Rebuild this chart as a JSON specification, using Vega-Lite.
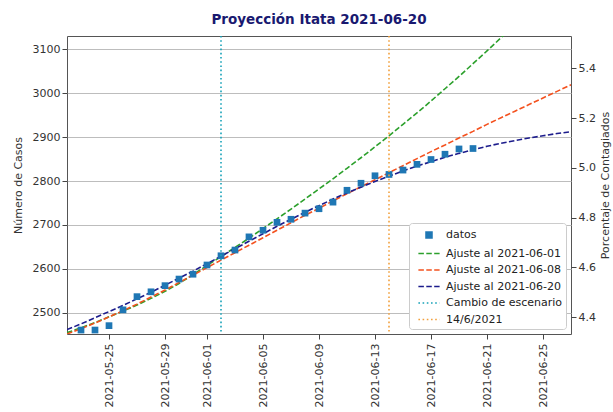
{
  "$schema": "https://vega.github.io/schema/vega-lite/v6.json",
  "width": 504,
  "height": 298,
  "autosize": "none",
  "padding": {"left": 67, "top": 36, "right": 42, "bottom": 78},
  "background": "white",
  "title": {"text": "Proyección Itata 2021-06-20", "font": "DejaVu Sans", "fontSize": 13.5, "fontWeight": "bold", "color": "#191970", "anchor": "middle", "offset": 9},
  "config": {
    "view": {"stroke": "#555555", "strokeWidth": 1},
    "font": "DejaVu Sans",
    "axis": {"labelFont": "DejaVu Sans", "labelFontSize": 11, "labelColor": "#333333", "tickColor": "#444444", "tickSize": 5, "domain": false, "titleFont": "DejaVu Sans", "titleFontSize": 11, "titleFontWeight": "normal", "titleColor": "#333333", "gridColor": "#bdbdbd", "gridWidth": 1}
  },
  "datasets": {
    "datos": [
      {"fecha": "2021-05-23", "casos": 2461, "porcentaje": 4.348, "serie": "datos"},
      {"fecha": "2021-05-24", "casos": 2461, "porcentaje": 4.348, "serie": "datos"},
      {"fecha": "2021-05-25", "casos": 2471, "porcentaje": 4.366, "serie": "datos"},
      {"fecha": "2021-05-26", "casos": 2507, "porcentaje": 4.429, "serie": "datos"},
      {"fecha": "2021-05-27", "casos": 2537, "porcentaje": 4.482, "serie": "datos"},
      {"fecha": "2021-05-28", "casos": 2548, "porcentaje": 4.502, "serie": "datos"},
      {"fecha": "2021-05-29", "casos": 2562, "porcentaje": 4.527, "serie": "datos"},
      {"fecha": "2021-05-30", "casos": 2577, "porcentaje": 4.553, "serie": "datos"},
      {"fecha": "2021-05-31", "casos": 2588, "porcentaje": 4.572, "serie": "datos"},
      {"fecha": "2021-06-01", "casos": 2609, "porcentaje": 4.610, "serie": "datos"},
      {"fecha": "2021-06-02", "casos": 2630, "porcentaje": 4.647, "serie": "datos"},
      {"fecha": "2021-06-03", "casos": 2643, "porcentaje": 4.670, "serie": "datos"},
      {"fecha": "2021-06-04", "casos": 2673, "porcentaje": 4.723, "serie": "datos"},
      {"fecha": "2021-06-05", "casos": 2688, "porcentaje": 4.749, "serie": "datos"},
      {"fecha": "2021-06-06", "casos": 2706, "porcentaje": 4.781, "serie": "datos"},
      {"fecha": "2021-06-07", "casos": 2713, "porcentaje": 4.793, "serie": "datos"},
      {"fecha": "2021-06-08", "casos": 2727, "porcentaje": 4.818, "serie": "datos"},
      {"fecha": "2021-06-09", "casos": 2737, "porcentaje": 4.836, "serie": "datos"},
      {"fecha": "2021-06-10", "casos": 2752, "porcentaje": 4.862, "serie": "datos"},
      {"fecha": "2021-06-11", "casos": 2779, "porcentaje": 4.910, "serie": "datos"},
      {"fecha": "2021-06-12", "casos": 2795, "porcentaje": 4.938, "serie": "datos"},
      {"fecha": "2021-06-13", "casos": 2812, "porcentaje": 4.968, "serie": "datos"},
      {"fecha": "2021-06-14", "casos": 2815, "porcentaje": 4.974, "serie": "datos"},
      {"fecha": "2021-06-15", "casos": 2825, "porcentaje": 4.991, "serie": "datos"},
      {"fecha": "2021-06-16", "casos": 2838, "porcentaje": 5.014, "serie": "datos"},
      {"fecha": "2021-06-17", "casos": 2849, "porcentaje": 5.034, "serie": "datos"},
      {"fecha": "2021-06-18", "casos": 2861, "porcentaje": 5.055, "serie": "datos"},
      {"fecha": "2021-06-19", "casos": 2873, "porcentaje": 5.076, "serie": "datos"},
      {"fecha": "2021-06-20", "casos": 2874, "porcentaje": 5.078, "serie": "datos"}
    ],
    "ajustes": [
      {"fecha": "2021-05-22", "serie": "Ajuste al 2021-06-01", "casos": 2455},
      {"fecha": "2021-05-23", "serie": "Ajuste al 2021-06-01", "casos": 2466},
      {"fecha": "2021-05-24", "serie": "Ajuste al 2021-06-01", "casos": 2478},
      {"fecha": "2021-05-25", "serie": "Ajuste al 2021-06-01", "casos": 2491},
      {"fecha": "2021-05-26", "serie": "Ajuste al 2021-06-01", "casos": 2504},
      {"fecha": "2021-05-27", "serie": "Ajuste al 2021-06-01", "casos": 2518},
      {"fecha": "2021-05-28", "serie": "Ajuste al 2021-06-01", "casos": 2533},
      {"fecha": "2021-05-29", "serie": "Ajuste al 2021-06-01", "casos": 2549},
      {"fecha": "2021-05-30", "serie": "Ajuste al 2021-06-01", "casos": 2567},
      {"fecha": "2021-05-31", "serie": "Ajuste al 2021-06-01", "casos": 2587},
      {"fecha": "2021-06-01", "serie": "Ajuste al 2021-06-01", "casos": 2608},
      {"fecha": "2021-06-02", "serie": "Ajuste al 2021-06-01", "casos": 2628},
      {"fecha": "2021-06-03", "serie": "Ajuste al 2021-06-01", "casos": 2649},
      {"fecha": "2021-06-04", "serie": "Ajuste al 2021-06-01", "casos": 2670},
      {"fecha": "2021-06-05", "serie": "Ajuste al 2021-06-01", "casos": 2692},
      {"fecha": "2021-06-06", "serie": "Ajuste al 2021-06-01", "casos": 2714},
      {"fecha": "2021-06-07", "serie": "Ajuste al 2021-06-01", "casos": 2736},
      {"fecha": "2021-06-08", "serie": "Ajuste al 2021-06-01", "casos": 2759},
      {"fecha": "2021-06-09", "serie": "Ajuste al 2021-06-01", "casos": 2782},
      {"fecha": "2021-06-10", "serie": "Ajuste al 2021-06-01", "casos": 2805},
      {"fecha": "2021-06-11", "serie": "Ajuste al 2021-06-01", "casos": 2829},
      {"fecha": "2021-06-12", "serie": "Ajuste al 2021-06-01", "casos": 2853},
      {"fecha": "2021-06-13", "serie": "Ajuste al 2021-06-01", "casos": 2878},
      {"fecha": "2021-06-14", "serie": "Ajuste al 2021-06-01", "casos": 2903},
      {"fecha": "2021-06-15", "serie": "Ajuste al 2021-06-01", "casos": 2929},
      {"fecha": "2021-06-16", "serie": "Ajuste al 2021-06-01", "casos": 2955},
      {"fecha": "2021-06-17", "serie": "Ajuste al 2021-06-01", "casos": 2982},
      {"fecha": "2021-06-18", "serie": "Ajuste al 2021-06-01", "casos": 3010},
      {"fecha": "2021-06-19", "serie": "Ajuste al 2021-06-01", "casos": 3038},
      {"fecha": "2021-06-20", "serie": "Ajuste al 2021-06-01", "casos": 3067},
      {"fecha": "2021-06-21", "serie": "Ajuste al 2021-06-01", "casos": 3096},
      {"fecha": "2021-06-22", "serie": "Ajuste al 2021-06-01", "casos": 3126},
      {"fecha": "2021-06-23", "serie": "Ajuste al 2021-06-01", "casos": 3157},
      {"fecha": "2021-05-22", "serie": "Ajuste al 2021-06-08", "casos": 2452},
      {"fecha": "2021-05-23", "serie": "Ajuste al 2021-06-08", "casos": 2464},
      {"fecha": "2021-05-24", "serie": "Ajuste al 2021-06-08", "casos": 2477},
      {"fecha": "2021-05-25", "serie": "Ajuste al 2021-06-08", "casos": 2491},
      {"fecha": "2021-05-26", "serie": "Ajuste al 2021-06-08", "casos": 2505},
      {"fecha": "2021-05-27", "serie": "Ajuste al 2021-06-08", "casos": 2520},
      {"fecha": "2021-05-28", "serie": "Ajuste al 2021-06-08", "casos": 2536},
      {"fecha": "2021-05-29", "serie": "Ajuste al 2021-06-08", "casos": 2552},
      {"fecha": "2021-05-30", "serie": "Ajuste al 2021-06-08", "casos": 2569},
      {"fecha": "2021-05-31", "serie": "Ajuste al 2021-06-08", "casos": 2586},
      {"fecha": "2021-06-01", "serie": "Ajuste al 2021-06-08", "casos": 2603},
      {"fecha": "2021-06-02", "serie": "Ajuste al 2021-06-08", "casos": 2620},
      {"fecha": "2021-06-03", "serie": "Ajuste al 2021-06-08", "casos": 2637},
      {"fecha": "2021-06-04", "serie": "Ajuste al 2021-06-08", "casos": 2654},
      {"fecha": "2021-06-05", "serie": "Ajuste al 2021-06-08", "casos": 2671},
      {"fecha": "2021-06-06", "serie": "Ajuste al 2021-06-08", "casos": 2688},
      {"fecha": "2021-06-07", "serie": "Ajuste al 2021-06-08", "casos": 2705},
      {"fecha": "2021-06-08", "serie": "Ajuste al 2021-06-08", "casos": 2722},
      {"fecha": "2021-06-09", "serie": "Ajuste al 2021-06-08", "casos": 2738},
      {"fecha": "2021-06-10", "serie": "Ajuste al 2021-06-08", "casos": 2755},
      {"fecha": "2021-06-11", "serie": "Ajuste al 2021-06-08", "casos": 2771},
      {"fecha": "2021-06-12", "serie": "Ajuste al 2021-06-08", "casos": 2787},
      {"fecha": "2021-06-13", "serie": "Ajuste al 2021-06-08", "casos": 2803},
      {"fecha": "2021-06-14", "serie": "Ajuste al 2021-06-08", "casos": 2819},
      {"fecha": "2021-06-15", "serie": "Ajuste al 2021-06-08", "casos": 2835},
      {"fecha": "2021-06-16", "serie": "Ajuste al 2021-06-08", "casos": 2851},
      {"fecha": "2021-06-17", "serie": "Ajuste al 2021-06-08", "casos": 2867},
      {"fecha": "2021-06-18", "serie": "Ajuste al 2021-06-08", "casos": 2882},
      {"fecha": "2021-06-19", "serie": "Ajuste al 2021-06-08", "casos": 2898},
      {"fecha": "2021-06-20", "serie": "Ajuste al 2021-06-08", "casos": 2913},
      {"fecha": "2021-06-21", "serie": "Ajuste al 2021-06-08", "casos": 2929},
      {"fecha": "2021-06-22", "serie": "Ajuste al 2021-06-08", "casos": 2944},
      {"fecha": "2021-06-23", "serie": "Ajuste al 2021-06-08", "casos": 2959},
      {"fecha": "2021-06-24", "serie": "Ajuste al 2021-06-08", "casos": 2974},
      {"fecha": "2021-06-25", "serie": "Ajuste al 2021-06-08", "casos": 2989},
      {"fecha": "2021-06-26", "serie": "Ajuste al 2021-06-08", "casos": 3004},
      {"fecha": "2021-06-27", "serie": "Ajuste al 2021-06-08", "casos": 3019},
      {"fecha": "2021-05-22", "serie": "Ajuste al 2021-06-20", "casos": 2462},
      {"fecha": "2021-05-23", "serie": "Ajuste al 2021-06-20", "casos": 2475},
      {"fecha": "2021-05-24", "serie": "Ajuste al 2021-06-20", "casos": 2489},
      {"fecha": "2021-05-25", "serie": "Ajuste al 2021-06-20", "casos": 2503},
      {"fecha": "2021-05-26", "serie": "Ajuste al 2021-06-20", "casos": 2517},
      {"fecha": "2021-05-27", "serie": "Ajuste al 2021-06-20", "casos": 2532},
      {"fecha": "2021-05-28", "serie": "Ajuste al 2021-06-20", "casos": 2547},
      {"fecha": "2021-05-29", "serie": "Ajuste al 2021-06-20", "casos": 2563},
      {"fecha": "2021-05-30", "serie": "Ajuste al 2021-06-20", "casos": 2579},
      {"fecha": "2021-05-31", "serie": "Ajuste al 2021-06-20", "casos": 2595},
      {"fecha": "2021-06-01", "serie": "Ajuste al 2021-06-20", "casos": 2612},
      {"fecha": "2021-06-02", "serie": "Ajuste al 2021-06-20", "casos": 2629},
      {"fecha": "2021-06-03", "serie": "Ajuste al 2021-06-20", "casos": 2646},
      {"fecha": "2021-06-04", "serie": "Ajuste al 2021-06-20", "casos": 2663},
      {"fecha": "2021-06-05", "serie": "Ajuste al 2021-06-20", "casos": 2680},
      {"fecha": "2021-06-06", "serie": "Ajuste al 2021-06-20", "casos": 2697},
      {"fecha": "2021-06-07", "serie": "Ajuste al 2021-06-20", "casos": 2713},
      {"fecha": "2021-06-08", "serie": "Ajuste al 2021-06-20", "casos": 2729},
      {"fecha": "2021-06-09", "serie": "Ajuste al 2021-06-20", "casos": 2744},
      {"fecha": "2021-06-10", "serie": "Ajuste al 2021-06-20", "casos": 2759},
      {"fecha": "2021-06-11", "serie": "Ajuste al 2021-06-20", "casos": 2773},
      {"fecha": "2021-06-12", "serie": "Ajuste al 2021-06-20", "casos": 2786},
      {"fecha": "2021-06-13", "serie": "Ajuste al 2021-06-20", "casos": 2799},
      {"fecha": "2021-06-14", "serie": "Ajuste al 2021-06-20", "casos": 2811},
      {"fecha": "2021-06-15", "serie": "Ajuste al 2021-06-20", "casos": 2823},
      {"fecha": "2021-06-16", "serie": "Ajuste al 2021-06-20", "casos": 2834},
      {"fecha": "2021-06-17", "serie": "Ajuste al 2021-06-20", "casos": 2844},
      {"fecha": "2021-06-18", "serie": "Ajuste al 2021-06-20", "casos": 2854},
      {"fecha": "2021-06-19", "serie": "Ajuste al 2021-06-20", "casos": 2863},
      {"fecha": "2021-06-20", "serie": "Ajuste al 2021-06-20", "casos": 2871},
      {"fecha": "2021-06-21", "serie": "Ajuste al 2021-06-20", "casos": 2879},
      {"fecha": "2021-06-22", "serie": "Ajuste al 2021-06-20", "casos": 2886},
      {"fecha": "2021-06-23", "serie": "Ajuste al 2021-06-20", "casos": 2892},
      {"fecha": "2021-06-24", "serie": "Ajuste al 2021-06-20", "casos": 2898},
      {"fecha": "2021-06-25", "serie": "Ajuste al 2021-06-20", "casos": 2903},
      {"fecha": "2021-06-26", "serie": "Ajuste al 2021-06-20", "casos": 2908},
      {"fecha": "2021-06-27", "serie": "Ajuste al 2021-06-20", "casos": 2912}
    ],
    "eventos": [
      {"fecha": "2021-06-02", "serie": "Cambio de escenario"},
      {"fecha": "2021-06-14", "serie": "14/6/2021"}
    ]
  },
  "encoding": {
    "x": {
      "field": "fecha", "type": "temporal",
      "scale": {"type": "utc", "domain": [{"year": 2021, "month": 5, "date": 22, "utc": true}, {"year": 2021, "month": 6, "date": 27, "utc": true}], "nice": false},
      "axis": {
        "title": null, "grid": false, "labelAngle": 270, "format": "%Y-%m-%d", "labelPadding": 4,
        "values": [
          {"year": 2021, "month": 5, "date": 25, "utc": true},
          {"year": 2021, "month": 5, "date": 29, "utc": true},
          {"year": 2021, "month": 6, "date": 1, "utc": true},
          {"year": 2021, "month": 6, "date": 5, "utc": true},
          {"year": 2021, "month": 6, "date": 9, "utc": true},
          {"year": 2021, "month": 6, "date": 13, "utc": true},
          {"year": 2021, "month": 6, "date": 17, "utc": true},
          {"year": 2021, "month": 6, "date": 21, "utc": true},
          {"year": 2021, "month": 6, "date": 25, "utc": true}
        ]
      }
    }
  },
  "layer": [
    {
      "layer": [
        {
          "data": {"name": "ajustes"},
          "mark": {"type": "line", "strokeWidth": 1.6, "strokeDash": [5.5, 2.4], "clip": true},
          "encoding": {
            "y": {"field": "casos", "type": "quantitative", "scale": {"domain": [2452, 3130], "nice": false, "zero": false}, "axis": {"title": "Número de Casos", "values": [2500, 2600, 2700, 2800, 2900, 3000, 3100], "format": "d", "grid": true, "titlePadding": 9}},
            "color": {"field": "serie", "type": "nominal",
              "scale": {"domain": ["datos", "Ajuste al 2021-06-01", "Ajuste al 2021-06-08", "Ajuste al 2021-06-20", "Cambio de escenario", "14/6/2021"], "range": ["#1f77b4", "#2ca02c", "#f4511e", "#1c1c8c", "#17a2b8", "#f2a03d"]},
              "legend": {"title": null, "orient": "bottom-right", "offset": 5, "fillColor": "white", "strokeColor": "#cccccc", "cornerRadius": 3, "padding": 4, "labelFont": "DejaVu Sans", "labelFontSize": 11, "labelColor": "#222222", "labelLimit": 0, "labelOffset": 9, "rowPadding": 3.5, "symbolSize": 200, "symbolOffset": 8, "symbolStrokeWidth": 1.6,
                "encode": {"symbols": {"update": {
                  "shape": {"signal": "datum.value === 'datos' ? 'M-0.42,-0.42H0.42V0.42H-0.42Z' : 'M-1.5,0H1.5'"},
                  "strokeDash": {"signal": "datum.value === 'datos' ? [1, 0] : (indexof(datum.value, 'Ajuste') === 0 ? [5.5, 2.4] : [1.6, 2.6])"}
                }}}
              }
            }
          }
        },
        {
          "data": {"name": "datos"},
          "mark": {"type": "square", "size": 45, "filled": true, "opacity": 1},
          "encoding": {
            "y": {"field": "casos", "type": "quantitative"},
            "color": {"field": "serie", "type": "nominal"}
          }
        },
        {
          "data": {"name": "eventos"},
          "mark": {"type": "rule", "strokeWidth": 1.6, "strokeDash": [1.6, 2.6]},
          "encoding": {
            "color": {"field": "serie", "type": "nominal"}
          }
        }
      ]
    },
    {
      "data": {"name": "datos"},
      "mark": {"type": "point", "opacity": 0},
      "encoding": {
        "y": {"field": "porcentaje", "type": "quantitative", "scale": {"domain": [4.332, 5.53], "nice": false, "zero": false}, "axis": {"orient": "right", "title": "Porcentaje de Contagiados", "titleAngle": 270, "values": [4.4, 4.6, 4.8, 5.0, 5.2, 5.4], "format": ".1f", "grid": false, "titlePadding": 15}}
      }
    }
  ],
  "resolve": {"scale": {"y": "independent"}}
}
